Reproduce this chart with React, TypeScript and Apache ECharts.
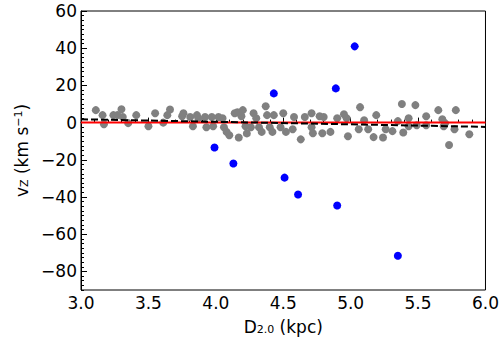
import React, { useEffect, useRef } from "react";
import * as echarts from "echarts";

const grayD = [3.11, 3.16, 3.17, 3.24, 3.27, 3.3, 3.31, 3.35, 3.41, 3.5, 3.55, 3.61, 3.64, 3.66, 3.75, 3.76, 3.81, 3.83, 3.86, 3.87, 3.92, 3.93, 3.97, 3.98, 4.02, 4.05, 4.06, 4.08, 4.1, 4.14, 4.16, 4.17, 4.19, 4.2, 4.22, 4.23, 4.26, 4.28, 4.3, 4.32, 4.34, 4.37, 4.38, 4.4, 4.43, 4.42, 4.48, 4.5, 4.52, 4.58, 4.57, 4.63, 4.66, 4.71, 4.71, 4.72, 4.77, 4.79, 4.8, 4.85, 4.9, 4.95, 4.97, 4.98, 5.06, 5.07, 5.1, 5.13, 5.17, 5.19, 5.24, 5.26, 5.31, 5.35, 5.38, 5.39, 5.43, 5.43, 5.48, 5.49, 5.56, 5.56, 5.65, 5.68, 5.69, 5.7, 5.73, 5.77, 5.78, 5.88];
const grayV = [6.7, 4, -0.9, 4, 4, 7.2, 3, -0.3, 4, -2, 5, 0, 4, 7, 3.4, 5, 3, -2, 4, 2.3, 3, -2.5, 3, -2, 3, 2.3, -2.5, -5, -6.8, 5, 5.6, -8, 3.4, 6.7, -2, -5.8, -2.5, 5, 2.3, -2.5, -5, 8.8, 4, -2.5, 4, -5, -2.5, 5, -5, 3, -3.6, -9, 3, 5, -2.5, -5.7, 3.4, -5.7, 3, -5, 2.3, 4.5, 2.3, -7.3, -3.6, 8.3, 1.3, -3.6, -7.8, 4, -8, -3.6, -4.6, 0.8, 10, -5.3, 2.3, -2, 9.4, -1.4, 3.4, -1.4, 6.7, 1.8, -2, -0.3, -12, -3.6, 6.7, -6.3];

const blueD = [3.99, 4.13, 4.43, 4.51, 4.61, 4.89, 4.9, 5.03, 5.35];
const blueV = [-13.4, -22, 15.7, -29.6, -38.7, 18.4, -44.6, 41, -71.6];

const fitX = [3.0, 6.0];
const fitY = [1.8, -2.3];
const zeroX = [3.0, 6.0];
const zeroY = [0, 0];

const yMajorTicks = [-80, -60, -40, -20, 0, 20, 40, 60];

const FONT = "DejaVu Sans";

export default function App() {
  const ref = useRef<HTMLDivElement>(null);
  useEffect(() => {
    if (!ref.current) return;
    const chart = echarts.init(ref.current, null, { renderer: "svg" });
    const fmt = (v: number) => (v < 0 ? "\u2212" + String(-v) : String(v));
    chart.setOption({
      animation: false,
      backgroundColor: "#fff",
      grid: { left: 81, right: 15, top: 11, bottom: 56, show: true, borderColor: "#000", borderWidth: 1, backgroundColor: "transparent" },
      xAxis: {
        type: "value",
        min: 3,
        max: 6,
        interval: 0.5,
        axisLine: { show: true, lineStyle: { color: "#000", width: 1 } },
        axisTick: { show: true, inside: true, length: 5, lineStyle: { color: "#000" } },
        minorTick: { show: true, splitNumber: 5, length: 3, lineStyle: { color: "#000" } },
        splitLine: { show: false },
        axisLabel: { color: "#000", fontSize: 17, fontFamily: FONT, margin: 4, formatter: (v: number) => v.toFixed(1) },
        name: "{a|D}{s|2.0}{a| (kpc)}",
        nameLocation: "middle",
        nameGap: 28,
        nameTextStyle: {
          rich: {
            a: { fontSize: 17, fontFamily: FONT, color: "#000" },
            s: { fontSize: 11, fontFamily: FONT, color: "#000", verticalAlign: "bottom" },
          },
        },
      },
      yAxis: [
        {
          type: "value",
          min: -90,
          max: 60,
          position: "left",
          axisLine: { show: true, lineStyle: { color: "#000", width: 1 } },
          axisTick: { show: true, inside: true, length: 6, lineStyle: { color: "#000" }, customValues: yMajorTicks },
          splitLine: { show: false },
          axisLabel: { color: "#000", fontSize: 17, fontFamily: FONT, margin: 4, customValues: yMajorTicks, formatter: fmt },
          name: "{a|v}{s|Z}{a| (km s}{p|\u22121}{a|)}",
          nameLocation: "middle",
          nameRotate: 90,
          nameGap: 45,
          nameTextStyle: {
            rich: {
              a: { fontSize: 17, fontFamily: FONT, color: "#000" },
              s: { fontSize: 11, fontFamily: FONT, color: "#000", verticalAlign: "bottom" },
              p: { fontSize: 11, fontFamily: FONT, color: "#000", verticalAlign: "top" },
            },
          },
        },
        {
          type: "value",
          min: -90,
          max: 60,
          interval: 2.5,
          position: "left",
          axisLine: { show: false },
          axisTick: { show: true, inside: true, length: 3, lineStyle: { color: "#000" } },
          axisLabel: { show: false },
          splitLine: { show: false },
        },
      ],
      series: [
        {
          type: "scatter",
          data: grayD.map((d, i) => [d, grayV[i]]),
          symbolSize: 8,
          itemStyle: { color: "#808080", opacity: 1 },
          z: 2,
        },
        {
          type: "scatter",
          data: blueD.map((d, i) => [d, blueV[i]]),
          symbolSize: 8,
          itemStyle: { color: "#0000ff", opacity: 1 },
          z: 3,
        },
        {
          type: "line",
          data: zeroX.map((x, i) => [x, zeroY[i]]),
          showSymbol: false,
          lineStyle: { color: "#ff0000", width: 2 },
          z: 4,
        },
        {
          type: "line",
          data: fitX.map((x, i) => [x, fitY[i]]),
          showSymbol: false,
          lineStyle: { color: "#000", width: 2, type: [7, 3] },
          z: 5,
        },
      ],
    });
    return () => chart.dispose();
  }, []);
  return <div ref={ref} style={{ width: 502, height: 346, position: "absolute", left: 0, top: 0 }} />;
}
